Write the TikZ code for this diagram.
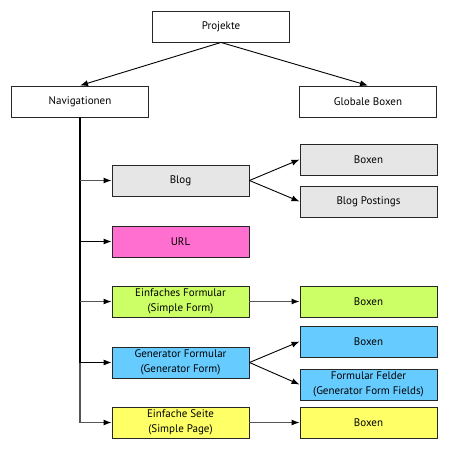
\documentclass[tikz,border=0pt]{standalone}
\usepackage{fontspec}
\setmainfont{PT Sans}
\usetikzlibrary{arrows.meta}
\definecolor{cgray}{HTML}{E6E6E6}
\definecolor{cpink}{HTML}{FF6FCF}
\definecolor{cgreen}{HTML}{CCFF66}
\definecolor{cblue}{HTML}{66CCFF}
\definecolor{cyellow}{HTML}{FFFF66}
\definecolor{lgray}{HTML}{555555}
\begin{document}
\begin{tikzpicture}[x=1pt,y=-1pt,
  box/.style={draw=black!85,line width=0.9pt,minimum width=137pt,minimum height=31pt,inner sep=0pt,align=center,font=\fontsize{11}{14.5}\selectfont},
  arr/.style={line width=0.9pt,-{Latex[length=8pt,width=6pt]}},
  garr/.style={line width=1.1pt,draw=lgray,-{Latex[length=8pt,width=6pt,color=black]}}]
\useasboundingbox (0,0) rectangle (448,450);
\node[box] (proj) at (221,26.5) {Projekte};
\node[box] (nav) at (80,101.5) {Navigationen};
\node[box] (glob) at (368,101.5) {Globale Boxen};
\node[box,fill=cgray] (blog) at (180.5,180.5) {Blog};
\node[box,fill=cpink] (url) at (180.5,241.5) {URL};
\node[box,fill=cgreen] (ef) at (180.5,301.5) {Einfaches Formular\\(Simple Form)};
\node[box,fill=cblue] (gf) at (180.5,362.5) {Generator Formular\\(Generator Form)};
\node[box,fill=cyellow] (es) at (180.5,422.5) {Einfache Seite\\(Simple Page)};
\node[box,fill=cgray] (bbox) at (368.5,159.5) {Boxen};
\node[box,fill=cgray] (bpost) at (368.5,201.5) {Blog Postings};
\node[box,fill=cgreen] (efbox) at (368.5,301.5) {Boxen};
\node[box,fill=cblue] (gfbox) at (368.5,341.5) {Boxen};
\node[box,fill=cblue] (gff) at (368.5,384.5) {Formular Felder\\(Generator Form Fields)};
\node[box,fill=cyellow] (esbox) at (368.5,422.5) {Boxen};
\draw[arr] (proj.south) -- (nav.north);
\draw[arr] (proj.south) -- (glob.north);
\coordinate (tgf) at (80,362.5);
\coordinate (tes) at (80,422.5);
\draw[line width=1.6pt] (nav.south) -- (tgf);
\draw[line width=1.1pt,draw=lgray] (tgf) -- (tes);
\draw[garr] (80,180.5) -- (blog.west);
\draw[arr] (80,241.5) -- (url.west);
\draw[garr] (80,301.5) -- (ef.west);
\draw[arr] (tgf) -- (gf.west);
\draw[garr] (tes) -- (es.west);
\draw[arr] (blog.east) -- (bbox.west);
\draw[arr] (blog.east) -- (bpost.west);
\draw[garr] (ef.east) -- (efbox.west);
\draw[arr] (gf.east) -- (gfbox.west);
\draw[arr] (gf.east) -- (gff.west);
\draw[garr] (es.east) -- (esbox.west);
\end{tikzpicture}
\end{document}
